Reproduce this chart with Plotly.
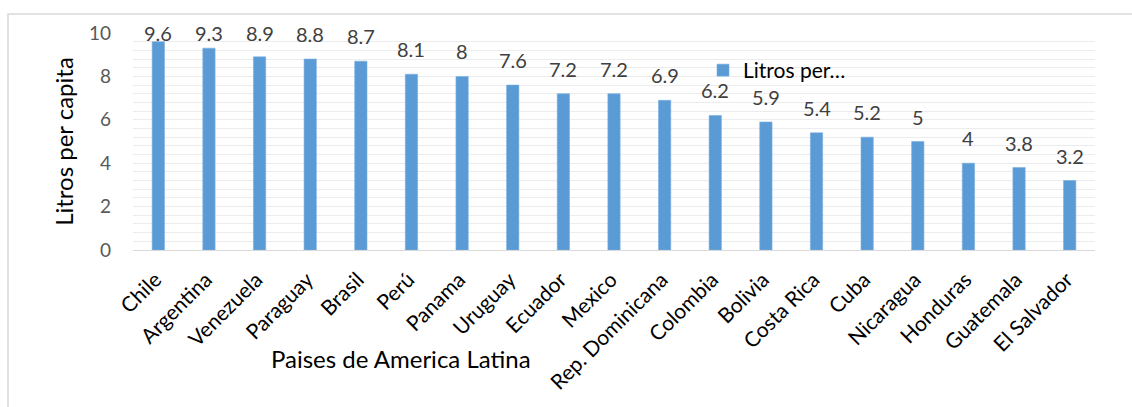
import plotly.graph_objects as go

# Consumo de vino por país (litros per capita)
paises = ["Chile", "Argentina", "Venezuela", "Paraguay", "Brasil", "Perú", "Panama",
          "Uruguay", "Ecuador", "Mexico", "Rep. Dominicana", "Colombia", "Bolivia",
          "Costa Rica", "Cuba", "Nicaragua", "Honduras", "Guatemala", "El Salvador"]
litros = [9.6, 9.3, 8.9, 8.8, 8.7, 8.1, 8, 7.6, 7.2, 7.2, 6.9, 6.2, 5.9,
          5.4, 5.2, 5, 4, 3.8, 3.2]
serie = "Litros per…"
y_ticks = [0, 2, 4, 6, 8, 10]

W, H = 1132, 407
L, R, T, B = 133, 37, 33, 157
pw, ph = W - L - R, H - T - B
Y_MAX = 10


def px_x(x):
    return (x - L) / pw


def px_y(y):
    return (H - B - y) / ph


FONT = "Lato"

# value labels sit a fixed distance above each bar, kept inside the chart area
LABEL_GAP = 25 / ph * Y_MAX     # in axis units
LABEL_CEIL = 9.98
label_y = [min(v + LABEL_GAP, LABEL_CEIL) for v in litros]

fig = go.Figure(go.Bar(
    x=paises, y=litros, name=serie,
    marker=dict(color="#5b9bd5", line=dict(color="#7aaee0", width=0.6)),
    showlegend=True, hoverinfo="x+y",
))

annotations = [
    dict(x=p, y=ly, xref="x", yref="y", text=f"{v:g}", showarrow=False,
         xanchor="center", yanchor="middle",
         font=dict(family=FONT, size=20, color="#404040"))
    for p, v, ly in zip(paises, litros, label_y)
]
annotations.append(dict(
    text="Paises de America Latina", xref="paper", yref="paper",
    x=px_x(401), y=px_y(358), xanchor="center", yanchor="middle",
    showarrow=False, font=dict(family=FONT, size=24, color="#000000"),
))

fig.update_layout(
    width=W, height=H,
    margin=dict(l=L, r=R, t=T, b=B, autoexpand=False),
    paper_bgcolor="white", plot_bgcolor="white",
    bargap=0.757,
    font=dict(family=FONT),
    showlegend=True,
    legend=dict(x=px_x(703), y=px_y(70.5), xanchor="left", yanchor="middle",
                font=dict(family=FONT, size=21, color="#000000"),
                bgcolor="rgba(0,0,0,0)", itemclick=False),
    xaxis=dict(
        tickangle=-45, tickfont=dict(family=FONT, size=21, color="#000000"),
        showline=True, linecolor="#d9d9d9", linewidth=1.3,
        showgrid=False, ticks="", ticklabelstandoff=8, ticklabelshift=-3,
        automargin=False,
    ),
    yaxis=dict(
        range=[0, Y_MAX], tickvals=y_ticks, showgrid=False, zeroline=False,
        tickfont=dict(family=FONT, size=19, color="#595959"),
        ticks="", ticklabelstandoff=21, automargin=False,
        minor=dict(dtick=0.4, showgrid=True, gridcolor="#ececec", gridwidth=1.2),
        title=dict(text="Litros per capita", standoff=8,
                   font=dict(family=FONT, size=24, color="#000000")),
    ),
    annotations=annotations,
    shapes=[dict(
        type="rect", xref="paper", yref="paper",
        x0=px_x(8), x1=px_x(1145), y0=px_y(420), y1=px_y(14),
        line=dict(color="#d9d9d9", width=1.5), layer="below",
    )],
)

fig.write_html("out.html")
